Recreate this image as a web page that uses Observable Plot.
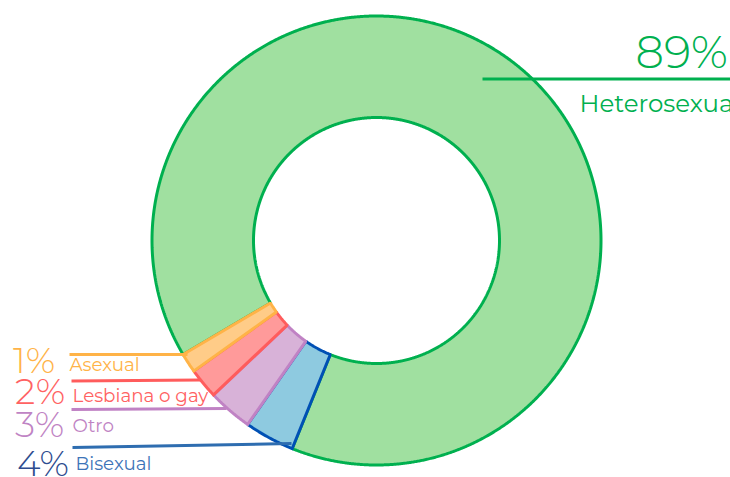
<!DOCTYPE html>
<html>
<head>
<meta charset="utf-8">
<script src="https://cdn.jsdelivr.net/npm/d3@7"></script>
<script src="https://cdn.jsdelivr.net/npm/@observablehq/plot@0.6"></script>
<style>
  html, body { margin: 0; padding: 0; background: #fff; }
  #chart svg { display: block; }
</style>
</head>
<body>
<div id="chart"></div>
<script>
// ---- data ----
const categories = ["Heterosexual", "Bisexual", "Otro", "Lesbiana o gay", "Asexual"];
const values = [89.6, 3.6, 3.2, 2.2, 1.4];
const pctLabels = ["89%", "4%", "3%", "2%", "1%"];

// ---- styles ----
const fills   = ["#a0e0a0", "#8ecae0", "#d8b2d8", "#ff9a9a", "#ffcc88"];
const strokes = ["#00b04f", "#0050b4", "#c082c4", "#ff5c5c", "#ffb347"];
const pctColors  = ["#00b04f", "#2e4c8f", "#bf84c4", "#ff6262", "#ffb347"];
const nameColors = ["#00b04f", "#3d74b8", "#bf84c4", "#ff6262", "#ffb347"];
const lineColors = ["#00b04f", "#2e6db0", "#c082c4", "#ff5c5c", "#ffb347"];

// ---- layout ----
const W = 730, H = 477;
const cx = 376, cy = 240, rOuter = 224.5, rInner = 123;
const startAngle = 239.5; // degrees clockwise from 12 o'clock
const layout = [
  {px: 635, py: 67, pSize: 45, nx: 579, ny: 111.5, nSize: 24.5, lx1: 482, ly1: 78.5, lx2: 730, ly2: 78.5},
  {px: 16.5, py: 475.5, pSize: 36, nx: 75, ny: 469, nSize: 18.3, lx1: 72, ly1: 447, lx2: 291, ly2: 443},
  {px: 14.5, py: 436, pSize: 36, nx: 72, ny: 431, nSize: 18.3, lx1: 71, ly1: 409, lx2: 226, ly2: 408},
  {px: 14.5, py: 403, pSize: 36, nx: 72, ny: 401, nSize: 18.3, lx1: 71, ly1: 380.5, lx2: 200, ly2: 379.5},
  {px: 12.5, py: 372, pSize: 36, nx: 69, ny: 370, nSize: 18.3, lx1: 69, ly1: 354, lx2: 187, ly2: 354}
];

// ---- geometry derived from data ----
const total = d3.sum(values);
const slices = [];
let acc = startAngle;
categories.forEach((name, i) => {
  const a0 = acc, a1 = acc + values[i] / total * 360;
  acc = a1;
  slices.push({name, i, a0, a1});
});
function pt(r, deg) {
  const t = deg * Math.PI / 180;
  return [cx + r * Math.sin(t), cy - r * Math.cos(t)];
}
const polyPts = [];
for (const s of slices) {
  const n = Math.max(2, Math.ceil((s.a1 - s.a0) / 0.25));
  const ring = [];
  for (let k = 0; k <= n; k++) ring.push(pt(rOuter, s.a0 + (s.a1 - s.a0) * k / n));
  for (let k = n; k >= 0; k--) ring.push(pt(rInner, s.a0 + (s.a1 - s.a0) * k / n));
  ring.push(ring[0]);
  for (const [x, y] of ring) polyPts.push({name: s.name, i: s.i, x, y});
}

const rows = categories.map((name, i) => ({name, i, pct: pctLabels[i], ...layout[i]}));
const font = "Montserrat, 'Open Sans', 'Noto Sans', sans-serif";

const chart = Plot.plot({
  width: W, height: H,
  margin: 0,
  x: {domain: [0, W], range: [0, W], axis: null},
  y: {domain: [0, H], range: [0, H], axis: null},
  style: {background: "#fff", overflow: "visible"},
  marks: [
    Plot.line(polyPts, {
      x: "x", y: "y", z: "name",
      fill: d => fills[d.i], stroke: d => strokes[d.i],
      strokeWidth: 3, strokeLinejoin: "miter", strokeLinecap: "square"
    }),
    Plot.link(rows, {
      x1: "lx1", y1: "ly1", x2: "lx2", y2: "ly2",
      stroke: d => lineColors[d.i], strokeWidth: 3
    }),
    Plot.text(rows, {
      x: "px", y: "py", text: "pct", textAnchor: "start", lineAnchor: "bottom",
      fill: d => pctColors[d.i], fontSize: d => d.pSize, fontFamily: font, fontWeight: 300
    }),
    Plot.text(rows, {
      x: "nx", y: "ny", text: "name", textAnchor: "start", lineAnchor: "bottom",
      fill: d => nameColors[d.i], fontSize: d => d.nSize, fontFamily: font
    })
  ]
});
document.getElementById("chart").appendChild(chart);
</script>
</body>
</html>
